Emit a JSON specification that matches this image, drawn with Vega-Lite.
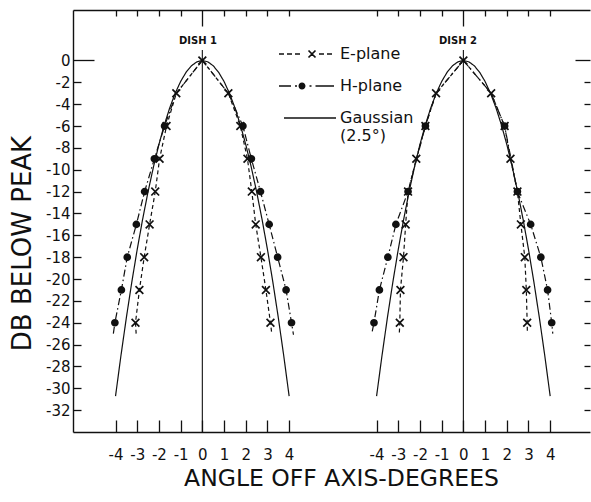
{
  "$schema": "https://vega.github.io/schema/vega-lite/v6.json",
  "width": 517,
  "height": 422,
  "autosize": {"type": "none"},
  "padding": {"left": 73, "top": 10, "right": 1, "bottom": 70},
  "background": "white",
  "config": {
    "view": {"stroke": null},
    "font": "DejaVu Sans",
    "axis": {
      "grid": false,
      "domainColor": "#111",
      "domainWidth": 1.4,
      "tickColor": "#111",
      "tickWidth": 1.3,
      "labelColor": "#111",
      "titleColor": "#111",
      "labelFont": "DejaVu Sans",
      "labelFontSize": 15,
      "titleFont": "DejaVu Sans",
      "titleFontWeight": "normal"
    }
  },
  "datasets": {
    "pts": [
      {"d": 1, "s": "E-plane", "i": 0, "x": -3.05, "y": -25.0, "m": 0},
      {"d": 1, "s": "E-plane", "i": 1, "x": -3.08, "y": -24, "m": 1},
      {"d": 1, "s": "E-plane", "i": 2, "x": -2.9, "y": -21, "m": 1},
      {"d": 1, "s": "E-plane", "i": 3, "x": -2.68, "y": -18, "m": 1},
      {"d": 1, "s": "E-plane", "i": 4, "x": -2.43, "y": -15, "m": 1},
      {"d": 1, "s": "E-plane", "i": 5, "x": -2.17, "y": -12, "m": 1},
      {"d": 1, "s": "E-plane", "i": 6, "x": -1.97, "y": -9, "m": 1},
      {"d": 1, "s": "E-plane", "i": 7, "x": -1.65, "y": -6, "m": 1},
      {"d": 1, "s": "E-plane", "i": 8, "x": -1.2, "y": -3, "m": 1},
      {"d": 1, "s": "E-plane", "i": 9, "x": 0, "y": 0, "m": 1},
      {"d": 1, "s": "E-plane", "i": 10, "x": 1.2, "y": -3, "m": 1},
      {"d": 1, "s": "E-plane", "i": 11, "x": 1.75, "y": -6, "m": 1},
      {"d": 1, "s": "E-plane", "i": 12, "x": 2.08, "y": -9, "m": 1},
      {"d": 1, "s": "E-plane", "i": 13, "x": 2.28, "y": -12, "m": 1},
      {"d": 1, "s": "E-plane", "i": 14, "x": 2.46, "y": -15, "m": 1},
      {"d": 1, "s": "E-plane", "i": 15, "x": 2.7, "y": -18, "m": 1},
      {"d": 1, "s": "E-plane", "i": 16, "x": 2.93, "y": -21, "m": 1},
      {"d": 1, "s": "E-plane", "i": 17, "x": 3.14, "y": -24, "m": 1},
      {"d": 1, "s": "E-plane", "i": 18, "x": 3.2, "y": -25.0, "m": 0},
      {"d": 1, "s": "H-plane", "i": 0, "x": -4.1, "y": -25.0, "m": 0},
      {"d": 1, "s": "H-plane", "i": 1, "x": -4.03, "y": -24, "m": 1},
      {"d": 1, "s": "H-plane", "i": 2, "x": -3.73, "y": -21, "m": 1},
      {"d": 1, "s": "H-plane", "i": 3, "x": -3.46, "y": -18, "m": 1},
      {"d": 1, "s": "H-plane", "i": 4, "x": -3.04, "y": -15, "m": 1},
      {"d": 1, "s": "H-plane", "i": 5, "x": -2.66, "y": -12, "m": 1},
      {"d": 1, "s": "H-plane", "i": 6, "x": -2.21, "y": -9, "m": 1},
      {"d": 1, "s": "H-plane", "i": 7, "x": -1.74, "y": -6, "m": 1},
      {"d": 1, "s": "H-plane", "i": 8, "x": -1.2, "y": -3, "m": 0},
      {"d": 1, "s": "H-plane", "i": 9, "x": 0, "y": 0, "m": 0},
      {"d": 1, "s": "H-plane", "i": 10, "x": 1.2, "y": -3, "m": 0},
      {"d": 1, "s": "H-plane", "i": 11, "x": 1.87, "y": -6, "m": 1},
      {"d": 1, "s": "H-plane", "i": 12, "x": 2.26, "y": -9, "m": 1},
      {"d": 1, "s": "H-plane", "i": 13, "x": 2.68, "y": -12, "m": 1},
      {"d": 1, "s": "H-plane", "i": 14, "x": 3.08, "y": -15, "m": 1},
      {"d": 1, "s": "H-plane", "i": 15, "x": 3.47, "y": -18, "m": 1},
      {"d": 1, "s": "H-plane", "i": 16, "x": 3.86, "y": -21, "m": 1},
      {"d": 1, "s": "H-plane", "i": 17, "x": 4.11, "y": -24, "m": 1},
      {"d": 1, "s": "H-plane", "i": 18, "x": 4.2, "y": -25.1, "m": 0},
      {"d": 2, "s": "E-plane", "i": 0, "x": -2.95, "y": -24.9, "m": 0},
      {"d": 2, "s": "E-plane", "i": 1, "x": -2.93, "y": -24, "m": 1},
      {"d": 2, "s": "E-plane", "i": 2, "x": -2.9, "y": -21, "m": 1},
      {"d": 2, "s": "E-plane", "i": 3, "x": -2.76, "y": -18, "m": 1},
      {"d": 2, "s": "E-plane", "i": 4, "x": -2.66, "y": -15, "m": 1},
      {"d": 2, "s": "E-plane", "i": 5, "x": -2.55, "y": -12, "m": 1},
      {"d": 2, "s": "E-plane", "i": 6, "x": -2.17, "y": -9, "m": 1},
      {"d": 2, "s": "E-plane", "i": 7, "x": -1.75, "y": -6, "m": 1},
      {"d": 2, "s": "E-plane", "i": 8, "x": -1.26, "y": -3, "m": 1},
      {"d": 2, "s": "E-plane", "i": 9, "x": 0, "y": 0, "m": 1},
      {"d": 2, "s": "E-plane", "i": 10, "x": 1.28, "y": -3, "m": 1},
      {"d": 2, "s": "E-plane", "i": 11, "x": 1.9, "y": -6, "m": 1},
      {"d": 2, "s": "E-plane", "i": 12, "x": 2.17, "y": -9, "m": 1},
      {"d": 2, "s": "E-plane", "i": 13, "x": 2.49, "y": -12, "m": 1},
      {"d": 2, "s": "E-plane", "i": 14, "x": 2.65, "y": -15, "m": 1},
      {"d": 2, "s": "E-plane", "i": 15, "x": 2.83, "y": -18, "m": 1},
      {"d": 2, "s": "E-plane", "i": 16, "x": 2.9, "y": -21, "m": 1},
      {"d": 2, "s": "E-plane", "i": 17, "x": 2.94, "y": -24, "m": 1},
      {"d": 2, "s": "E-plane", "i": 18, "x": 2.95, "y": -25.0, "m": 0},
      {"d": 2, "s": "H-plane", "i": 0, "x": -4.2, "y": -24.8, "m": 0},
      {"d": 2, "s": "H-plane", "i": 1, "x": -4.12, "y": -24, "m": 1},
      {"d": 2, "s": "H-plane", "i": 2, "x": -3.87, "y": -21, "m": 1},
      {"d": 2, "s": "H-plane", "i": 3, "x": -3.48, "y": -18, "m": 1},
      {"d": 2, "s": "H-plane", "i": 4, "x": -3.11, "y": -15, "m": 1},
      {"d": 2, "s": "H-plane", "i": 5, "x": -2.55, "y": -12, "m": 1},
      {"d": 2, "s": "H-plane", "i": 6, "x": -1.75, "y": -6, "m": 1},
      {"d": 2, "s": "H-plane", "i": 7, "x": -1.26, "y": -3, "m": 0},
      {"d": 2, "s": "H-plane", "i": 8, "x": 0, "y": 0, "m": 0},
      {"d": 2, "s": "H-plane", "i": 9, "x": 1.28, "y": -3, "m": 0},
      {"d": 2, "s": "H-plane", "i": 10, "x": 1.9, "y": -6, "m": 1},
      {"d": 2, "s": "H-plane", "i": 11, "x": 2.49, "y": -12, "m": 1},
      {"d": 2, "s": "H-plane", "i": 12, "x": 3.1, "y": -15, "m": 1},
      {"d": 2, "s": "H-plane", "i": 13, "x": 3.57, "y": -18, "m": 1},
      {"d": 2, "s": "H-plane", "i": 14, "x": 3.88, "y": -21, "m": 1},
      {"d": 2, "s": "H-plane", "i": 15, "x": 4.07, "y": -24, "m": 1},
      {"d": 2, "s": "H-plane", "i": 16, "x": 4.12, "y": -25.0, "m": 0},
      {"d": 0, "s": "Gaussian", "i": 0, "x": -4, "y": -30.72, "m": 0},
      {"d": 0, "s": "Gaussian", "i": 1, "x": -3.75, "y": -27.0, "m": 0},
      {"d": 0, "s": "Gaussian", "i": 2, "x": -3.5, "y": -23.52, "m": 0},
      {"d": 0, "s": "Gaussian", "i": 3, "x": -3.25, "y": -20.28, "m": 0},
      {"d": 0, "s": "Gaussian", "i": 4, "x": -3, "y": -17.28, "m": 0},
      {"d": 0, "s": "Gaussian", "i": 5, "x": -2.75, "y": -14.52, "m": 0},
      {"d": 0, "s": "Gaussian", "i": 6, "x": -2.5, "y": -12, "m": 0},
      {"d": 0, "s": "Gaussian", "i": 7, "x": -2.25, "y": -9.72, "m": 0},
      {"d": 0, "s": "Gaussian", "i": 8, "x": -2, "y": -7.68, "m": 0},
      {"d": 0, "s": "Gaussian", "i": 9, "x": -1.75, "y": -5.88, "m": 0},
      {"d": 0, "s": "Gaussian", "i": 10, "x": -1.5, "y": -4.32, "m": 0},
      {"d": 0, "s": "Gaussian", "i": 11, "x": -1.25, "y": -3, "m": 0},
      {"d": 0, "s": "Gaussian", "i": 12, "x": -1, "y": -1.92, "m": 0},
      {"d": 0, "s": "Gaussian", "i": 13, "x": -0.75, "y": -1.08, "m": 0},
      {"d": 0, "s": "Gaussian", "i": 14, "x": -0.5, "y": -0.48, "m": 0},
      {"d": 0, "s": "Gaussian", "i": 15, "x": -0.25, "y": -0.12, "m": 0},
      {"d": 0, "s": "Gaussian", "i": 16, "x": 0, "y": 0, "m": 0},
      {"d": 0, "s": "Gaussian", "i": 17, "x": 0.25, "y": -0.12, "m": 0},
      {"d": 0, "s": "Gaussian", "i": 18, "x": 0.5, "y": -0.48, "m": 0},
      {"d": 0, "s": "Gaussian", "i": 19, "x": 0.75, "y": -1.08, "m": 0},
      {"d": 0, "s": "Gaussian", "i": 20, "x": 1, "y": -1.92, "m": 0},
      {"d": 0, "s": "Gaussian", "i": 21, "x": 1.25, "y": -3, "m": 0},
      {"d": 0, "s": "Gaussian", "i": 22, "x": 1.5, "y": -4.32, "m": 0},
      {"d": 0, "s": "Gaussian", "i": 23, "x": 1.75, "y": -5.88, "m": 0},
      {"d": 0, "s": "Gaussian", "i": 24, "x": 2, "y": -7.68, "m": 0},
      {"d": 0, "s": "Gaussian", "i": 25, "x": 2.25, "y": -9.72, "m": 0},
      {"d": 0, "s": "Gaussian", "i": 26, "x": 2.5, "y": -12, "m": 0},
      {"d": 0, "s": "Gaussian", "i": 27, "x": 2.75, "y": -14.52, "m": 0},
      {"d": 0, "s": "Gaussian", "i": 28, "x": 3, "y": -17.28, "m": 0},
      {"d": 0, "s": "Gaussian", "i": 29, "x": 3.25, "y": -20.28, "m": 0},
      {"d": 0, "s": "Gaussian", "i": 30, "x": 3.5, "y": -23.52, "m": 0},
      {"d": 0, "s": "Gaussian", "i": 31, "x": 3.75, "y": -27.0, "m": 0},
      {"d": 0, "s": "Gaussian", "i": 32, "x": 4, "y": -30.72, "m": 0}
    ],
    "centre": [
      {"d": 1, "x": 0, "y": 0.95, "y2": -34, "label": "DISH 1", "ly": 1.8, "lx": -0.2},
      {"d": 2, "x": 0, "y": 0.95, "y2": -34, "label": "DISH 2", "ly": 1.8, "lx": -0.25}
    ]
  },
  "layer": [
    {
      "data": {"name": "pts"},
      "transform": [{"filter": "datum.d === 1 || datum.d === 0"}],
      "mark": {"type": "line", "color": "#111", "strokeWidth": 1.2},
      "encoding": {
        "x": {"field": "x", "type": "quantitative", "scale": {"domain": [-5.96, 17.865], "nice": false, "zero": false},
          "axis": {"orient": "bottom", "values": [-4, -3, -2, -1, 0, 1, 2, 3, 4], "tickSize": -12, "labelPadding": 27,
            "labelExpr": "datum.value < 0 ? '-' + abs(datum.value) : '' + datum.value",
            "title": "ANGLE OFF AXIS-DEGREES", "titleFontSize": 23.5, "titleX": 268, "titleY": 46, "titleBaseline": "middle", "titleAlign": "center"}},
        "y": {"field": "y", "type": "quantitative", "scale": {"domain": [-34, 4.62], "nice": false, "zero": false},
          "axis": {"orient": "left", "values": [0, -2, -4, -6, -8, -10, -12, -14, -16, -18, -20, -22, -24, -26, -28, -30, -32],
            "tickSize": {"condition": {"test": "datum.value === 0", "value": -21}, "value": -8},
            "labelPadding": {"condition": {"test": "datum.value === 0", "value": 24}, "value": 11},
            "labelExpr": "datum.value < 0 ? '-' + abs(datum.value) : '' + datum.value",
            "title": "DB BELOW PEAK", "titleFontSize": 26, "titleX": -51, "titleY": 233, "titleAngle": 270, "titleAlign": "center", "titleBaseline": "middle"}},
        "detail": {"field": "s"},
        "order": {"field": "i", "type": "quantitative"},
        "strokeDash": {"field": "s", "type": "nominal", "scale": {"domain": ["E-plane", "H-plane", "Gaussian"], "range": [[4, 3], [7, 3, 1.5, 3], [1, 0]]}, "legend": null}
      }
    },
    {
      "data": {"name": "pts"},
      "transform": [{"filter": "datum.d === 1 && datum.m === 1"}],
      "mark": {"type": "point", "filled": true, "color": "#111", "stroke": "#111", "strokeWidth": 1.7, "opacity": 1, "size": 36},
      "encoding": {
        "x": {"field": "x", "type": "quantitative", "scale": {"domain": [-5.96, 17.865], "nice": false, "zero": false},
          "axis": {"orient": "top", "values": [-4, -3, -2, -1, 0, 1, 2, 3, 4], "labels": false, "title": null,
            "tickSize": {"condition": {"test": "datum.value === 0", "value": -16}, "value": -6}}},
        "y": {"field": "y", "type": "quantitative", "scale": {"domain": [-34, 4.62], "nice": false, "zero": false}, "axis": null},
        "shape": {"field": "s", "type": "nominal", "scale": {"domain": ["E-plane", "H-plane"], "range": ["M-1.3,-1.3L1.3,1.3M-1.3,1.3L1.3,-1.3", "circle"]}, "legend": null}
      }
    },
    {
      "data": {"name": "centre"},
      "transform": [{"filter": "datum.d === 1"}],
      "mark": {"type": "rule", "color": "#111", "strokeWidth": 1.1},
      "encoding": {
        "x": {"field": "x", "type": "quantitative", "scale": {"domain": [-5.96, 17.865], "nice": false, "zero": false}, "axis": null},
        "y": {"field": "y", "type": "quantitative", "scale": {"domain": [-34, 4.62], "nice": false, "zero": false}, "axis": null},
        "y2": {"field": "y2"}
      }
    },
    {
      "data": {"name": "centre"},
      "transform": [{"filter": "datum.d === 1"}],
      "mark": {"type": "text", "color": "#111", "fontSize": 10, "fontWeight": "bold", "font": "DejaVu Sans", "align": "center", "baseline": "middle"},
      "encoding": {
        "x": {"field": "lx", "type": "quantitative", "scale": {"domain": [-5.96, 17.865], "nice": false, "zero": false}, "axis": null},
        "y": {"field": "ly", "type": "quantitative", "scale": {"domain": [-34, 4.62], "nice": false, "zero": false}, "axis": null},
        "text": {"field": "label"}
      }
    },
    {
      "data": {"name": "pts"},
      "transform": [{"filter": "datum.d === 2 || datum.d === 0"}],
      "mark": {"type": "line", "color": "#111", "strokeWidth": 1.2},
      "encoding": {
        "x": {"field": "x", "type": "quantitative", "scale": {"domain": [-17.99, 5.835], "nice": false, "zero": false},
          "axis": {"orient": "bottom", "values": [-4, -3, -2, -1, 0, 1, 2, 3, 4], "tickSize": -12, "labelPadding": 27, "domain": false,
            "labelExpr": "datum.value < 0 ? '-' + abs(datum.value) : '' + datum.value", "title": null}},
        "y": {"field": "y", "type": "quantitative", "scale": {"domain": [-34, 4.62], "nice": false, "zero": false},
          "axis": {"orient": "right", "values": [0, -2, -4, -6, -8, -10, -12, -14, -16, -18, -20, -22, -24, -26, -28, -30, -32],
            "labels": false, "domain": false, "title": null,
            "tickSize": {"condition": {"test": "datum.value === 0", "value": -15}, "value": -6}}},
        "detail": {"field": "s"},
        "order": {"field": "i", "type": "quantitative"},
        "strokeDash": {"field": "s", "type": "nominal", "scale": {"domain": ["E-plane", "H-plane", "Gaussian"], "range": [[4, 3], [7, 3, 1.5, 3], [1, 0]]}, "legend": null}
      }
    },
    {
      "data": {"name": "pts"},
      "transform": [{"filter": "datum.d === 2 && datum.m === 1"}],
      "mark": {"type": "point", "filled": true, "color": "#111", "stroke": "#111", "strokeWidth": 1.7, "opacity": 1, "size": 36},
      "encoding": {
        "x": {"field": "x", "type": "quantitative", "scale": {"domain": [-17.99, 5.835], "nice": false, "zero": false},
          "axis": {"orient": "top", "values": [-4, -3, -2, -1, 0, 1, 2, 3, 4], "labels": false, "title": null, "domain": false,
            "tickSize": {"condition": {"test": "datum.value === 0", "value": -16}, "value": -6}}},
        "y": {"field": "y", "type": "quantitative", "scale": {"domain": [-34, 4.62], "nice": false, "zero": false}, "axis": null},
        "shape": {"field": "s", "type": "nominal", "scale": {"domain": ["E-plane", "H-plane"], "range": ["M-1.3,-1.3L1.3,1.3M-1.3,1.3L1.3,-1.3", "circle"]}, "legend": null}
      }
    },
    {
      "data": {"name": "centre"},
      "transform": [{"filter": "datum.d === 2"}],
      "mark": {"type": "rule", "color": "#111", "strokeWidth": 1.1},
      "encoding": {
        "x": {"field": "x", "type": "quantitative", "scale": {"domain": [-17.99, 5.835], "nice": false, "zero": false}, "axis": null},
        "y": {"field": "y", "type": "quantitative", "scale": {"domain": [-34, 4.62], "nice": false, "zero": false}, "axis": null},
        "y2": {"field": "y2"}
      }
    },
    {
      "data": {"name": "centre"},
      "transform": [{"filter": "datum.d === 2"}],
      "mark": {"type": "text", "color": "#111", "fontSize": 10, "fontWeight": "bold", "font": "DejaVu Sans", "align": "center", "baseline": "middle"},
      "encoding": {
        "x": {"field": "lx", "type": "quantitative", "scale": {"domain": [-17.99, 5.835], "nice": false, "zero": false}, "axis": null},
        "y": {"field": "ly", "type": "quantitative", "scale": {"domain": [-34, 4.62], "nice": false, "zero": false}, "axis": null},
        "text": {"field": "label"}
      }
    },
    {
      "data": {"values": [{"s": "E-plane"}, {"s": "H-plane"}, {"s": "Gaussian"}]},
      "mark": {"type": "point", "filled": true, "color": "#111", "opacity": 0, "size": 400},
      "encoding": {
        "shape": {"field": "s", "type": "nominal",
          "scale": {"domain": ["E-plane", "H-plane", "Gaussian"],
            "range": [
              "M-2.7,-0.065L-2.2,-0.065L-2.2,0.065L-2.7,0.065Z M-1.9,-0.065L-1.4,-0.065L-1.4,0.065L-1.9,0.065Z M-1.1,-0.065L-0.6,-0.065L-0.6,0.065L-1.1,0.065Z M0.31,-0.41L1.01,0.29L0.89,0.41L0.19,-0.29Z M0.19,0.29L0.89,-0.41L1.01,-0.29L0.31,0.41Z M1.3,-0.065L1.8,-0.065L1.8,0.065L1.3,0.065Z M2.1,-0.065L2.6,-0.065L2.6,0.065L2.1,0.065Z",
              "M-2.7,-0.065L-1.5,-0.065L-1.5,0.065L-2.7,0.065Z M-1.1,-0.08L-0.9,-0.08L-0.9,0.08L-1.1,0.08Z M-0.75,0A0.35,0.35 0 1,0 -0.05,0A0.35,0.35 0 1,0 -0.75,0Z M0.35,-0.08L0.55,-0.08L0.55,0.08L0.35,0.08Z M0.95,-0.065L2.8,-0.065L2.8,0.065L0.95,0.065Z",
              "M-2.2,-0.065L3.0,-0.065L3.0,0.065L-2.2,0.065Z"
            ]},
          "legend": {"orient": "none", "legendX": 223, "legendY": 34, "title": null, "padding": 0,
            "symbolSize": 400, "symbolFillColor": "#111", "symbolStrokeWidth": 0, "symbolOpacity": 1,
            "labelFont": "DejaVu Sans", "labelFontSize": 16, "labelColor": "#111", "labelOffset": 24, "rowPadding": 14, "labelLimit": 300,
            "labelExpr": "datum.label === 'Gaussian' ? ['Gaussian', '\u00a0\u00a0(2.5°)'] : datum.label"}}
      }
    }
  ],
  "resolve": {
    "scale": {"x": "independent", "y": "independent", "shape": "independent", "strokeDash": "independent"},
    "axis": {"x": "independent", "y": "independent"}
  }
}
